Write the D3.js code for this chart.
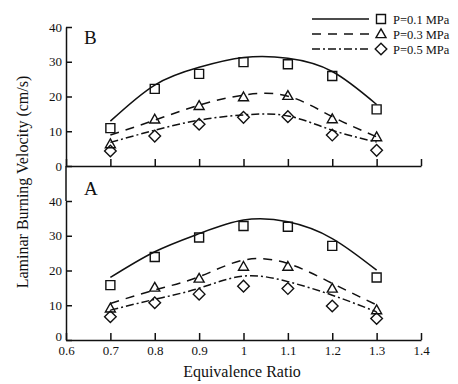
<!DOCTYPE html>
<html><head><meta charset="utf-8">
<script src="https://cdn.jsdelivr.net/npm/d3@7"></script>
<style>
html,body{margin:0;padding:0;background:#fff;}
svg{display:block;}
text{font-family:"Liberation Serif","Times New Roman",serif;fill:#111;}
</style></head>
<body><svg id="c" width="458" height="384"></svg>
<script>
// ---- data ----
const phi = [0.7, 0.8, 0.9, 1.0, 1.1, 1.2, 1.3];
const xTicks = [0.6, 0.7, 0.8, 0.9, 1.0, 1.1, 1.2, 1.3, 1.4];
const xTickLabels = ["0.6", "0.7", "0.8", "0.9", "1", "1.1", "1.2", "1.3", "1.4"];
const yTicks = [0, 10, 20, 30, 40];
const seriesNames = ["P=0.1 MPa", "P=0.3 MPa", "P=0.5 MPa"];
// panel B (top): measured
const bP1 = [10.9, 22.2, 26.5, 29.9, 29.3, 25.9, 16.3];
const bP3 = [6.3, 13.4, 17.3, 19.8, 20.2, 13.5, 8.3];
const bP5 = [4.3, 8.6, 12.0, 14.0, 14.2, 8.9, 4.5];
// panel B: fitted curves
const bFit1 = [12.9, 23.3, 28.4, 31.2, 31.0, 27.2, 17.7];
const bFit3 = [8.9, 13.2, 17.5, 20.4, 20.1, 14.2, 8.4];
const bFit5 = [6.8, 10.3, 13.2, 14.7, 14.4, 10.3, 6.9];
// panel A (bottom): measured
const aP1 = [15.8, 23.9, 29.5, 32.8, 32.6, 27.1, 18.0];
const aP3 = [9.1, 15.1, 17.7, 21.1, 21.1, 14.8, 8.6];
const aP5 = [6.7, 10.7, 13.2, 15.5, 14.8, 9.8, 6.2];
// panel A: fitted curves
const aFit1 = [18.0, 25.4, 30.6, 34.5, 34.0, 29.2, 20.1];
const aFit3 = [10.5, 14.4, 18.2, 23.0, 22.0, 16.3, 10.1];
const aFit5 = [8.6, 11.7, 14.9, 18.4, 16.8, 12.9, 8.1];

// ---- drawing ----
const svg = d3.select("#c");
const ink = "#111";
const x = d3.scaleLinear().domain([0.6, 1.4]).range([66, 421]);
const yTop = d3.scaleLinear().domain([0, 40]).range([166, 27]);
const yBot = d3.scaleLinear().domain([0, 40]).range([340, 201]);

const dashes = [null, "9,7", "8,3,2,3"];
const markers = ["square", "triangle", "diamond"];

function markerPath(type) {
  if (type === "square") return "M-4.5,-4.5H4.5V4.5H-4.5Z";
  if (type === "triangle") return "M0,-5.2L5,3.6H-5Z";
  return "M0,-5.8L5.8,0L0,5.8L-5.8,0Z";
}

function styleAxis(g) {
  g.selectAll("path,line").attr("stroke", ink).attr("stroke-width", 1.5);
  g.selectAll("text").attr("font-family", '"Liberation Serif",serif').attr("font-size", 13).attr("fill", "#222");
}

function panel(y, meas, fits, label, labelY, showXLabels) {
  // y axis
  const ya = svg.append("g").attr("transform", `translate(${x(0.6)},0)`)
    .call(d3.axisLeft(y).tickValues(yTicks).tickSizeInner(-6).tickSizeOuter(0).tickPadding(4));
  styleAxis(ya);
  if (showXLabels) {
    ya.selectAll(".tick").filter(d => d === 0).select("text").attr("dy", "0.05em");
  }
  // x axis
  const xa = svg.append("g").attr("transform", `translate(0,${y(0)})`)
    .call(d3.axisBottom(x).tickValues(xTicks).tickSizeInner(-7).tickSizeOuter(0).tickPadding(6)
      .tickFormat((d, i) => showXLabels ? xTickLabels[i] : ""));
  styleAxis(xa);
  // curves
  fits.forEach((f, i) => {
    const line = d3.line().x((d, j) => x(phi[j])).y(d => y(d)).curve(d3.curveNatural);
    svg.append("path").attr("d", line(f)).attr("fill", "none").attr("stroke", ink)
      .attr("stroke-width", 1.5).attr("stroke-dasharray", dashes[i]);
  });
  // markers
  meas.forEach((m, i) => {
    svg.append("g").selectAll("path").data(m).join("path")
      .attr("transform", (d, j) => `translate(${x(phi[j])},${y(d)})`)
      .attr("d", markerPath(markers[i]))
      .attr("fill", "none").attr("stroke", ink).attr("stroke-width", 1.4);
  });
  svg.append("text").attr("x", 84).attr("y", labelY).attr("font-size", 19).text(label);
}

panel(yTop, [bP1, bP3, bP5], [bFit1, bFit3, bFit5], "B", 44, false);
panel(yBot, [aP1, aP3, aP5], [aFit1, aFit3, aFit5], "A", 195, true);

// connect the two y axes
svg.append("line").attr("x1", x(0.6)).attr("x2", x(0.6)).attr("y1", yTop(0)).attr("y2", yBot(40))
  .attr("stroke", ink).attr("stroke-width", 1.5);

// axis titles
svg.append("text").attr("x", 242).attr("y", 377).attr("text-anchor", "middle")
  .attr("font-size", 16).text("Equivalence Ratio");
svg.append("text").attr("transform", "translate(28,182) rotate(-90)").attr("text-anchor", "middle")
  .attr("font-size", 16).text("Laminar Burning Velocity (cm/s)");

// legend
const legY = [19, 34, 49];
seriesNames.forEach((name, i) => {
  svg.append("line").attr("x1", 312).attr("x2", 369).attr("y1", legY[i]).attr("y2", legY[i])
    .attr("stroke", ink).attr("stroke-width", 1.5).attr("stroke-dasharray", dashes[i]);
  svg.append("path").attr("transform", `translate(381,${legY[i]})`).attr("d", markerPath(markers[i]))
    .attr("fill", "none").attr("stroke", ink).attr("stroke-width", 1.4);
  svg.append("text").attr("x", 393).attr("y", legY[i] + 4.5).attr("font-size", 12.5).text(name);
});
</script></body></html>
